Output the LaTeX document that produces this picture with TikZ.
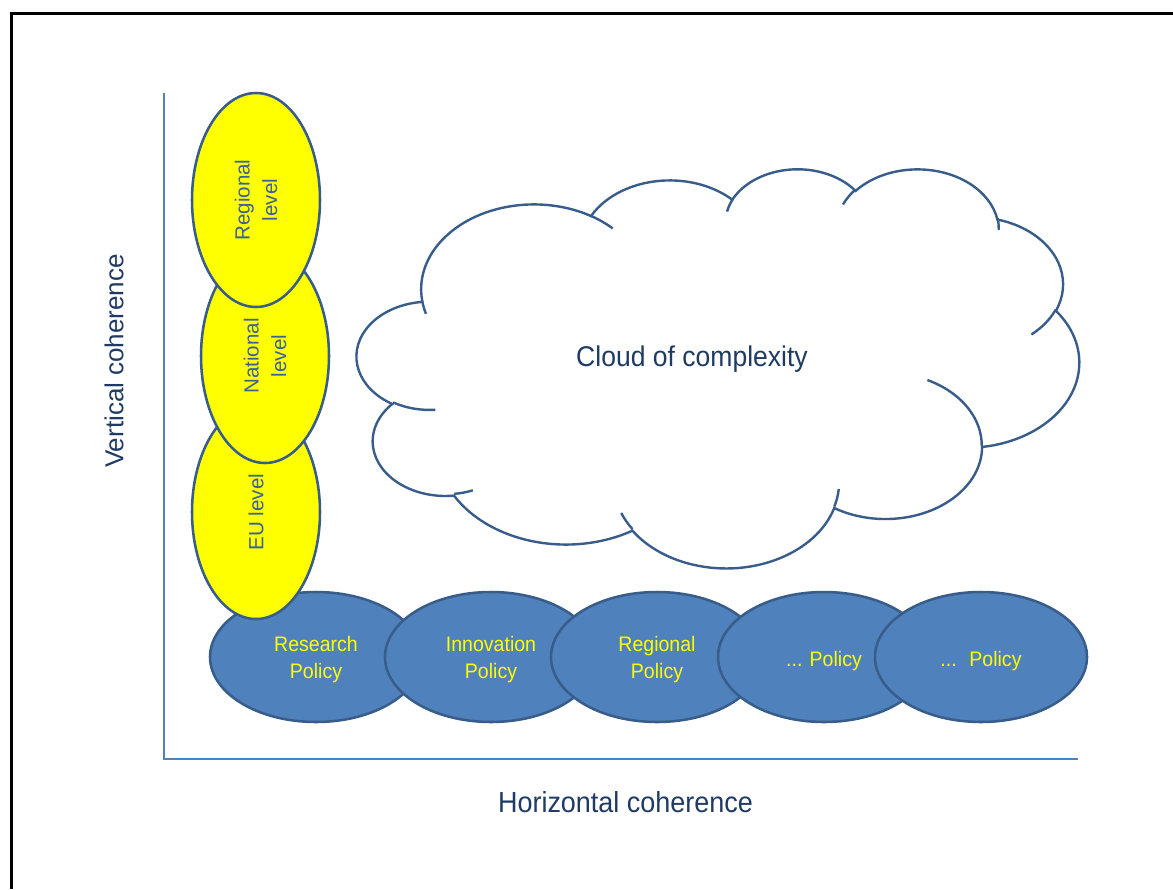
\documentclass[tikz,border=0pt]{standalone}
\usepackage{fontspec}
\setmainfont{Liberation Sans}
\newfontfamily\narrowfont[FakeStretch=0.93]{Liberation Sans}
\usetikzlibrary{shapes.geometric}
\definecolor{edgecol}{HTML}{385D8A}
\definecolor{polfill}{HTML}{4F81BD}
\definecolor{lvlfill}{HTML}{FFFF00}
\definecolor{axiscol}{HTML}{4F81BD}
\definecolor{navytext}{HTML}{1F3B64}
\definecolor{lvltext}{HTML}{3B6098}
\definecolor{poltextcol}{HTML}{FFFF00}
% elliptical arc in the style of DrawingML arcTo: wR hR stAng swAng (degrees, true angles)
\newcommand\ooarc[4]{%
  \pgfextra{%
    \pgfmathsetmacro\ooA{atan2(#1*sin(#3),#2*cos(#3))}%
    \pgfmathsetmacro\ooB{atan2(#1*sin(#3+#4),#2*cos(#3+#4))}%
    \pgfmathsetmacro\ooD{\ooB-\ooA}%
    \pgfmathsetmacro\ooE{\ooB+360*(\ooD<0)}%
    \xdef\ooA{\ooA}\xdef\ooE{\ooE}%
  }%
  arc[start angle=\ooA, end angle=\ooE, x radius=#1, y radius=#2]%
}
\begin{document}
\begin{tikzpicture}[x=0.75pt,y=-0.75pt,
  framel/.style={line width=2.25pt, draw=black},
  axisl/.style={line width=0.9pt, draw=axiscol},
  polbox/.style={ellipse, draw=edgecol, fill=polfill, line width=1.9pt,
    minimum width=159pt, minimum height=97.5pt, inner sep=0pt},
  poltext/.style={text=poltextcol, inner sep=0pt,
    font=\narrowfont\fontsize{15.75pt}{20.25pt}\selectfont, align=center},
  lvlbox/.style={ellipse, draw=edgecol, fill=lvlfill, line width=1.9pt,
    minimum width=160.5pt, minimum height=96pt, inner sep=0pt, rotate=90,
    text=lvltext, font=\fontsize{15.4pt}{20.6pt}\selectfont, align=center},
  cloudl/.style={draw=edgecol, line width=1.8pt},
  bigtext/.style={text=navytext, inner sep=0pt}]
\useasboundingbox[fill=white] (0,0) rectangle (1173,889);

% frame
\coordinate (ftr) at (1173,13);
\coordinate (ftl) at (11,13);
\coordinate (fbl) at (11,889);
\draw[framel] (ftr) -- (ftl) -- (fbl);

% axes
\coordinate (ytop) at (164,93);
\coordinate (orig) at (164,759);
\coordinate (xend) at (1078,759);
\draw[axisl] (ytop) -- (orig) -- (xend);

% cloud
\begin{scope}[shift={(357,168)}, x=1.25347pt, y=-0.69271pt]
\draw[cloudl, fill=white] (39.00,143.70)
  \ooarc{67.53}{91.90}{-190.4875}{123.7805}
  \ooarc{53.33}{72.67}{-144.1024}{89.9452}
  \ooarc{43.65}{59.45}{-145.8079}{99.7230}
  \ooarc{48.57}{65.95}{-130.9861}{117.2417}
  \ooarc{53.33}{72.73}{-78.7089}{109.0269}
  \ooarc{67.75}{92.20}{-46.2673}{130.2690}
  \ooarc{57.85}{78.67}{0.6250}{114.0333}
  \ooarc{67.52}{92.15}{22.4516}{115.1726}
  \ooarc{77.20}{105.43}{66.2426}{75.7110}
  \ooarc{43.60}{59.18}{-274.9421}{146.7356}
  \ooarc{43.45}{59.45}{-246.8285}{152.5189}
  -- cycle;
\draw[cloudl]
  (46.93,261.77) \ooarc{43.45}{59.45}{86.7420}{26.4295}
  (69.28,348.99) \ooarc{43.60}{59.18}{73.6105}{11.4475}
  (164.78,390.90) \ooarc{67.52}{92.15}{137.6242}{14.0811}
  (288.27,347.51) \ooarc{67.52}{92.15}{6.4533}{15.9984}
  (341.29,229.54) \ooarc{57.85}{78.67}{-70.2924}{70.9174}
  (417.98,153.54) \ooarc{53.33}{72.73}{30.3181}{27.7515}
  (383.24,54.26) \ooarc{48.57}{65.95}{-13.7443}{14.8640}
  (290.78,39.52) \ooarc{48.57}{65.95}{-149.1815}{18.1954}
  (221.41,47.20) \ooarc{43.65}{59.45}{-163.4943}{17.6864}
  (140.00,51.92) \ooarc{67.53}{91.90}{-66.7070}{12.3194}
  (41.27,157.89) \ooarc{67.53}{91.90}{157.6544}{11.8582};
\end{scope}
\node[bigtext, anchor=base, font=\narrowfont\fontsize{21.4pt}{25pt}\selectfont] (cloudtxt) at (692,366) {Cloud of complexity};

% policy ellipses
\node[polbox] (research) at (316,657) {};
\node[polbox] (innovation) at (491,657) {};
\node[polbox] (regpol) at (657,657) {};
\node[polbox] (pol4) at (824,657) {};
\node[polbox] (pol5) at (981,657) {};
\node[poltext] (researchtxt) at ([yshift=-2.25pt]research.center) {Research\\Policy};
\node[poltext] (innovationtxt) at ([yshift=-2.25pt]innovation.center) {Innovation\\Policy};
\node[poltext] (regpoltxt) at ([yshift=-2.25pt]regpol.center) {Regional\\Policy};
\node[poltext] (pol4txt) at ([yshift=-3pt]pol4.center) {... Policy};
\node[poltext] (pol5txt) at ([yshift=-3pt]pol5.center) {...~ Policy};

% level ellipses
\node[lvlbox] (eu) at (256,512) {EU level};
\node[lvlbox] (national) at (265,356) {National\\level};
\node[lvlbox] (regional) at (256,200) {Regional\\level};

% axis titles
\node[bigtext, rotate=90, font=\fontsize{19.5pt}{23pt}\selectfont] (vtitle) at (114,361) {Vertical coherence};
\node[bigtext, anchor=base, font=\narrowfont\fontsize{21.75pt}{26pt}\selectfont] (htitle) at (625.5,812) {Horizontal coherence};
\end{tikzpicture}
\end{document}
